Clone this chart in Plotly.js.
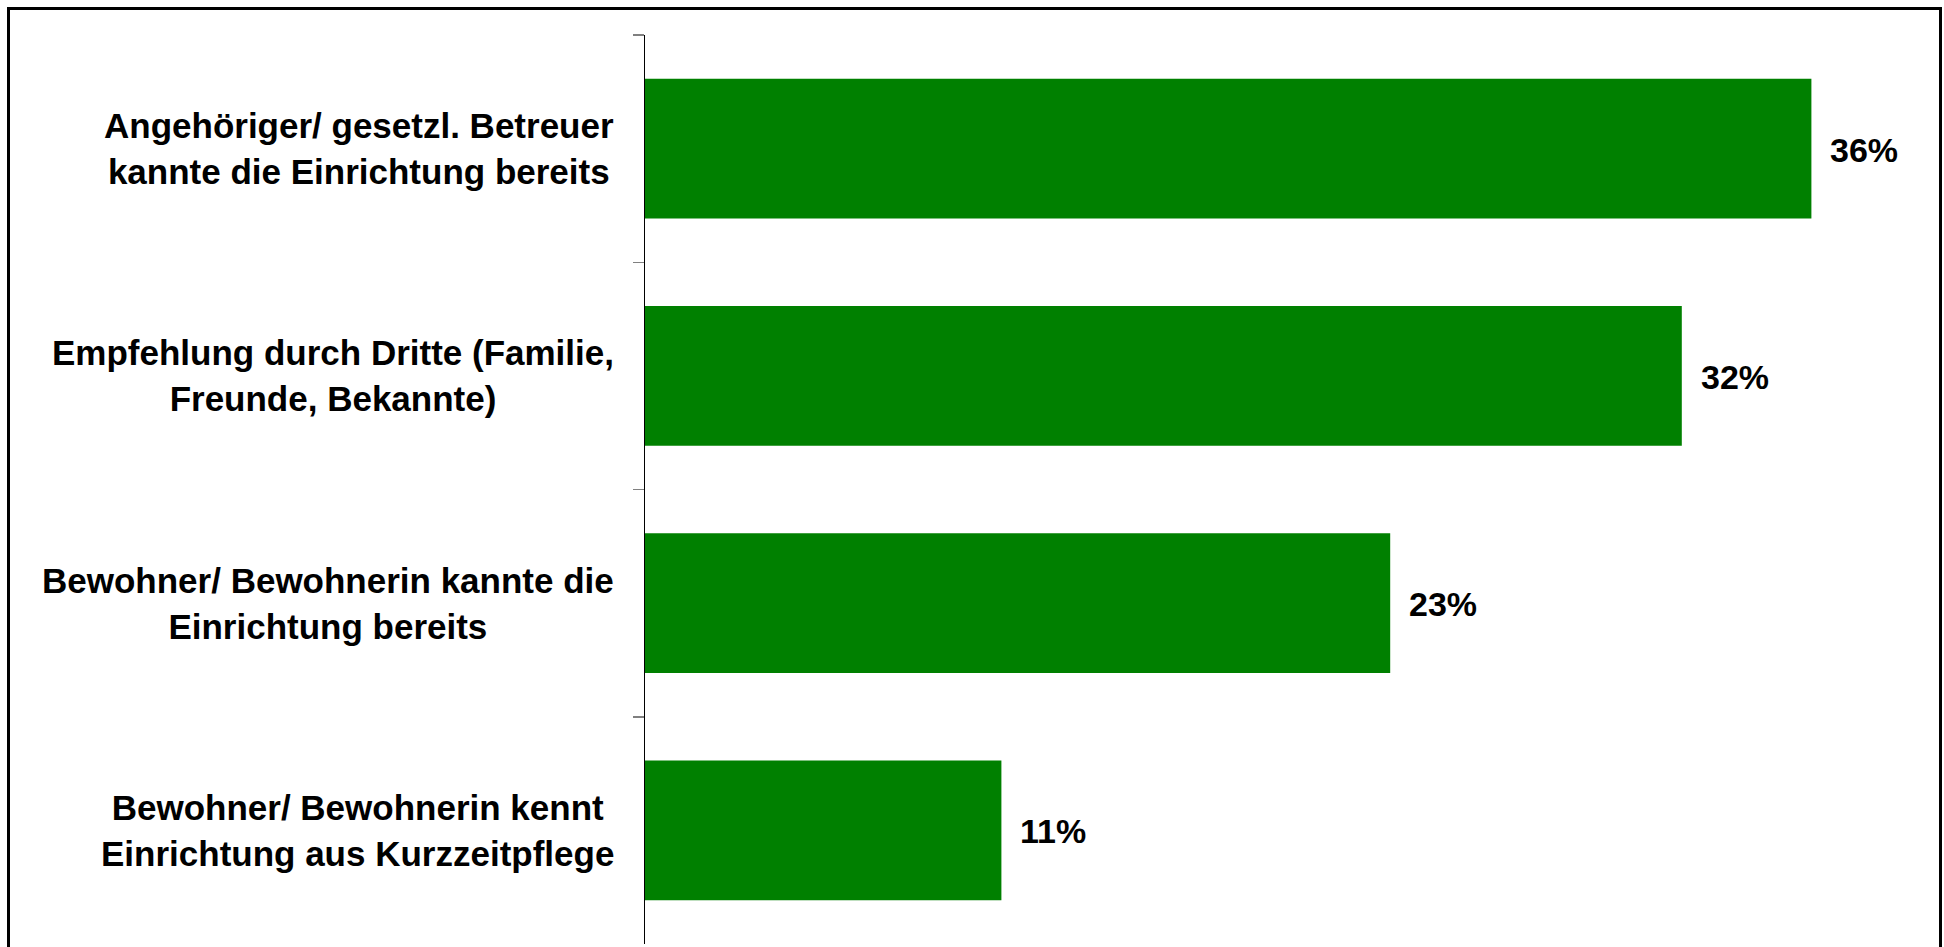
<!DOCTYPE html>
<html>
<head>
<meta charset="utf-8">
<script src="https://cdn.plot.ly/plotly-3.0.1.min.js"></script>
<style>
  html, body { margin: 0; padding: 0; background: #ffffff; }
  #chart { width: 1944px; height: 947px; }
</style>
</head>
<body>
<div id="chart"></div>
<script>
// ---- data ----
const categories = [
  "Angehöriger/ gesetzl. Betreuer<br>kannte die Einrichtung bereits",
  "Empfehlung durch Dritte (Familie,<br>Freunde, Bekannte)",
  "Bewohner/ Bewohnerin kannte die<br>Einrichtung bereits",
  "Bewohner/ Bewohnerin kennt<br>Einrichtung aus Kurzzeitpflege"
];
const values = [36, 32, 23, 11];
const valueLabels = values.map(v => v + "%");

// ---- styling ----
const FONT = "'Liberation Sans', Arial, Helvetica, sans-serif";
const BAR_COLOR = "#008000";

const trace = {
  type: "bar",
  orientation: "h",
  y: categories,
  x: values,
  marker: { color: BAR_COLOR, line: { width: 0 } },
  hoverinfo: "none",
  showlegend: false
};

const annotations = [];
categories.forEach((c, i) => {
  annotations.push({
    xref: "paper", yref: "y", x: 0, y: c,
    xanchor: "right", yanchor: "middle", align: "center",
    xshift: -29,
    text: c, showarrow: false,
    font: { family: FONT, size: 35, color: "#000000", weight: "bold" }
  });
  annotations.push({
    xref: "x", yref: "y", x: values[i], y: c,
    xanchor: "left", yanchor: "middle", align: "left",
    xshift: 17, yshift: -1,
    text: valueLabels[i], showarrow: false,
    font: { family: FONT, size: 34, color: "#000000", weight: "bold" }
  });
});

const layout = {
  width: 1944,
  height: 947,
  margin: { l: 645, r: 3, t: 35, b: 3, pad: 0 },
  paper_bgcolor: "#ffffff",
  plot_bgcolor: "#ffffff",
  bargap: 0.385,
  font: { family: FONT, size: 34, color: "#000000" },
  xaxis: {
    range: [0, 40],
    showgrid: false, zeroline: false, showline: false,
    showticklabels: false, ticks: "", fixedrange: true
  },
  yaxis: {
    type: "category",
    range: [categories.length - 0.5, -0.5],
    showgrid: false, zeroline: false,
    showline: true, linecolor: "#000000", linewidth: 1.5,
    ticks: "outside", tickson: "boundaries", ticklen: 11,
    tickcolor: "#808080", tickwidth: 1.5,
    showticklabels: false, fixedrange: true
  },
  shapes: [{
    type: "rect", xref: "paper", yref: "paper",
    x0: (8.5 - 645) / 1296, x1: (1940.5 - 645) / 1296,
    y0: -0.03, y1: 1 + (35 - 8.5) / 909,
    line: { color: "#000000", width: 3 },
    fillcolor: "rgba(0,0,0,0)", layer: "above"
  }],
  annotations: annotations
};

Plotly.newPlot("chart", [trace], layout, { displayModeBar: false, staticPlot: true });
</script>
</body>
</html>
